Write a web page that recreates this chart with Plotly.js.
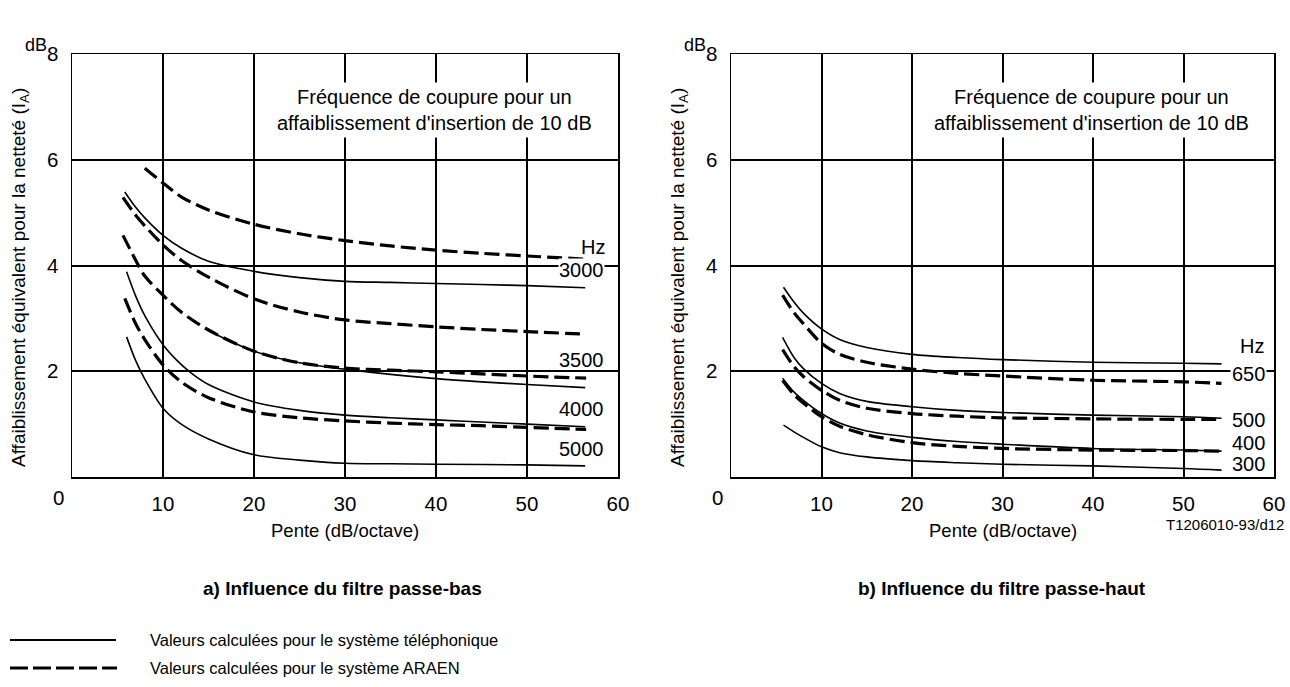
<!DOCTYPE html>
<html>
<head>
<meta charset="utf-8">
<script src="https://cdn.plot.ly/plotly-3.0.1.min.js"></script>
<style>
  html, body { margin: 0; padding: 0; background: #ffffff; }
  #chart { width: 1290px; height: 687px; }
</style>
</head>
<body>
<div id="chart"></div>
<script>
// ---------- Data ----------
// a) Passe-bas : pente (dB/octave) -> affaiblissement (dB)
const basDash1X = [8, 10, 12, 15, 20, 25, 30, 35, 40, 45, 50, 56.5];
const basDash1Y = [5.84, 5.56, 5.30, 5.05, 4.78, 4.60, 4.47, 4.37, 4.29, 4.23, 4.18, 4.12];
const basSolid1X = [5.8, 7, 8, 10, 12, 15, 20, 25, 30, 35, 40, 45, 50, 56.4];
const basSolid1Y = [5.39, 5.10, 4.90, 4.57, 4.33, 4.08, 3.89, 3.77, 3.70, 3.68, 3.66, 3.64, 3.62, 3.58];
const basDash2X = [5.6, 7, 8, 10, 12, 15, 20, 25, 30, 35, 40, 45, 50, 56.5];
const basDash2Y = [5.29, 4.95, 4.75, 4.39, 4.10, 3.78, 3.37, 3.12, 2.97, 2.90, 2.84, 2.79, 2.75, 2.70];
const basDash3X = [5.6, 7, 8, 10, 12, 15, 20, 25, 30, 35, 40, 45, 50, 56.5];
const basDash3Y = [4.57, 4.10, 3.80, 3.44, 3.12, 2.78, 2.38, 2.16, 2.06, 2.02, 1.99, 1.95, 1.91, 1.87];
const basSolid2X = [16, 20, 25, 30, 35, 40, 45, 50, 56.4];
const basSolid2Y = [2.68, 2.38, 2.16, 2.04, 1.94, 1.86, 1.80, 1.75, 1.69];
const basSolid3X = [6.0, 7, 8, 10, 11.5, 13, 15, 20, 25, 30, 35, 40, 45, 50, 56.4];
const basSolid3Y = [3.88, 3.42, 3.05, 2.50, 2.21, 1.98, 1.75, 1.42, 1.26, 1.17, 1.12, 1.08, 1.04, 1.00, 0.95];
const basDash4X = [5.8, 7, 8, 10, 12, 15, 20, 25, 30, 35, 40, 45, 50, 56.5];
const basDash4Y = [3.38, 2.90, 2.60, 2.12, 1.80, 1.50, 1.23, 1.12, 1.06, 1.02, 0.99, 0.97, 0.94, 0.90];
const basSolid4X = [6.0, 7, 8, 10, 12, 15, 20, 25, 30, 35, 40, 50, 56.4];
const basSolid4Y = [2.65, 2.20, 1.85, 1.30, 1.00, 0.72, 0.42, 0.32, 0.26, 0.25, 0.24, 0.23, 0.21];

// b) Passe-haut
const hautSolid650X = [5.8, 7, 8, 10, 12, 15, 20, 25, 30, 40, 50, 54.2];
const hautSolid650Y = [3.59, 3.30, 3.10, 2.80, 2.60, 2.45, 2.32, 2.26, 2.22, 2.17, 2.15, 2.14];
const hautDash650X = [5.7, 7, 8, 10, 12, 15, 20, 25, 30, 40, 50, 54.2];
const hautDash650Y = [3.44, 3.10, 2.90, 2.53, 2.32, 2.17, 2.04, 1.96, 1.91, 1.83, 1.80, 1.77];
const hautSolid500X = [5.7, 7, 8, 10, 12, 15, 20, 25, 30, 40, 50, 54.2];
const hautSolid500Y = [2.64, 2.25, 2.05, 1.77, 1.58, 1.43, 1.33, 1.26, 1.22, 1.17, 1.14, 1.11];
const hautDash500X = [5.7, 7, 8, 10, 12, 15, 20, 25, 30, 40, 50, 54.2];
const hautDash500Y = [2.41, 2.08, 1.90, 1.64, 1.45, 1.30, 1.20, 1.15, 1.12, 1.10, 1.09, 1.09];
const hautSolid400X = [5.7, 7, 8, 10, 12, 15, 20, 25, 30, 40, 50, 54.2];
const hautSolid400Y = [1.87, 1.60, 1.45, 1.20, 1.02, 0.87, 0.75, 0.67, 0.62, 0.54, 0.51, 0.49];
const hautDash400X = [5.7, 7, 8, 10, 12, 15, 20, 25, 30, 40, 50, 54.2];
const hautDash400Y = [1.83, 1.55, 1.40, 1.14, 0.96, 0.80, 0.65, 0.58, 0.54, 0.51, 0.50, 0.49];
const hautSolid300X = [5.8, 7, 8, 10, 12, 15, 20, 25, 30, 40, 50, 54.2];
const hautSolid300Y = [0.98, 0.85, 0.75, 0.57, 0.46, 0.38, 0.31, 0.27, 0.24, 0.21, 0.16, 0.13];

// Tick labels and curve labels
const xTickVals = [10, 20, 30, 40, 50, 60];
const yTickVals = [2, 4, 6, 8];
const basLabels = ['Hz', '3000', '3500', '4000', '5000'];
const hautLabels = ['Hz', '650', '500', '400', '300'];

// ---------- Styling / layout ----------
const FONT = 'Liberation Sans, Arial, Helvetica, sans-serif';
const W = 1290, H = 687;
const px = v => v / W;          // paper x from pixel
const py = v => 1 - v / H;      // paper y from pixel

const solidLine = {color: '#000', width: 1.6, shape: 'spline', smoothing: 0.9};
const dashLine = {color: '#000', width: 3.2, dash: '15px,6px', shape: 'spline', smoothing: 0.9};

function tr(x, y, style, ax) {
  return {x: x, y: y, type: 'scatter', mode: 'lines', line: style,
          xaxis: ax === 2 ? 'x2' : 'x', yaxis: ax === 2 ? 'y2' : 'y',
          hoverinfo: 'skip', showlegend: false};
}

const traces = [
  tr(basDash1X, basDash1Y, dashLine, 1),
  tr(basSolid1X, basSolid1Y, solidLine, 1),
  tr(basDash2X, basDash2Y, dashLine, 1),
  tr(basSolid2X, basSolid2Y, solidLine, 1),
  tr(basDash3X, basDash3Y, dashLine, 1),
  tr(basSolid3X, basSolid3Y, solidLine, 1),
  tr(basDash4X, basDash4Y, dashLine, 1),
  tr(basSolid4X, basSolid4Y, solidLine, 1),
  tr(hautSolid650X, hautSolid650Y, solidLine, 2),
  tr(hautDash650X, hautDash650Y, dashLine, 2),
  tr(hautSolid500X, hautSolid500Y, solidLine, 2),
  tr(hautDash500X, hautDash500Y, dashLine, 2),
  tr(hautSolid400X, hautSolid400Y, solidLine, 2),
  tr(hautDash400X, hautDash400Y, dashLine, 2),
  tr(hautSolid300X, hautSolid300Y, solidLine, 2)
];

function xAxis(domain, anchor) {
  return {domain: domain, anchor: anchor, range: [0, 60], tickvals: xTickVals,
          ticks: '', ticklabelstandoff: 8, showgrid: true, gridcolor: '#000', gridwidth: 2,
          zeroline: false, showline: true, mirror: true, linecolor: '#000', linewidth: 1.5,
          tickfont: {family: FONT, size: 20.5, color: '#000'}, fixedrange: true};
}
function yAxis(domain, anchor) {
  return {domain: domain, anchor: anchor, range: [0, 8], tickvals: yTickVals,
          ticks: '', ticklabelstandoff: 8, showgrid: true, gridcolor: '#000', gridwidth: 2,
          zeroline: false, showline: true, mirror: true, linecolor: '#000', linewidth: 1.5,
          tickfont: {family: FONT, size: 20.5, color: '#000'}, fixedrange: true};
}

const yDom = [1 - 477 / H, 1 - 54 / H];
const annFont = s => ({family: FONT, size: s, color: '#000'});

const annotations = [];
function paperText(text, x, y, size, opts) {
  annotations.push(Object.assign({text: text, xref: 'paper', yref: 'paper', x: px(x), y: py(y),
    showarrow: false, font: annFont(size), xanchor: 'center', yanchor: 'middle'}, opts || {}));
}

// per-panel decorations
[[0, 72, 345], [1, 731, 1002.5]].forEach(([i, x0, xc]) => {
  paperText('dB', x0 - 36, 45, 18);
  paperText('0', x0 - 14, 497, 20.5);
  paperText('Affaiblissement équivalent pour la netteté (I<sub>A</sub>)', x0 - 52, 278, 19, {textangle: -90});
  paperText('Pente (dB/octave)', xc, 530, 18.5);
  paperText('Fréquence de coupure pour un<br>affaiblissement d\'insertion de 10 dB', xc + 89, 110, 20,
            {bgcolor: '#fff', borderpad: 3});
});
paperText('<b>a) Influence du filtre passe-bas</b>', 342, 588, 19);
paperText('<b>b) Influence du filtre passe-haut</b>', 1002, 588, 19);
paperText('T1206010-93/d12', 1286, 524, 15, {xanchor: 'right'});

// curve labels
const basLabelY = [4.35, 3.91, 2.21, 1.29, 0.53];
basLabels.forEach((t, k) => {
  annotations.push({text: t, xref: 'x', yref: 'y', x: k === 0 ? 58.7 : 56.0, y: basLabelY[k],
    xanchor: k === 0 ? 'right' : 'center', yanchor: 'middle', showarrow: false,
    font: annFont(20), bgcolor: k === 1 ? '#fff' : 'rgba(0,0,0,0)', borderpad: 0});
});
const hautLabelY = [2.48, 1.95, 1.08, 0.64, 0.25];
hautLabels.forEach((t, k) => {
  annotations.push({text: t, xref: 'x2', yref: 'y2', x: k === 0 ? 59.1 : 57.2, y: hautLabelY[k],
    xanchor: k === 0 ? 'right' : 'center', yanchor: 'middle', showarrow: false,
    font: annFont(20), bgcolor: k === 1 ? '#fff' : 'rgba(0,0,0,0)', borderpad: 1});
});

// legend (drawn as decoration)
paperText('Valeurs calculées pour le système téléphonique', 148, 640, 16.5, {xanchor: 'left'});
paperText('Valeurs calculées pour le système ARAEN', 148, 668, 16.5, {xanchor: 'left'});
const shapes = [
  {type: 'line', xref: 'paper', yref: 'paper', x0: px(10), x1: px(116), y0: py(640), y1: py(640),
   line: {color: '#000', width: 2}},
  {type: 'line', xref: 'paper', yref: 'paper', x0: px(10), x1: px(117), y0: py(668), y1: py(668),
   line: {color: '#000', width: 3.2, dash: '18px,5px'}}
];

const layout = {
  width: W, height: H,
  margin: {l: 0, r: 0, t: 0, b: 0},
  paper_bgcolor: '#fff', plot_bgcolor: '#fff',
  showlegend: false,
  xaxis: xAxis([72 / W, 618 / W], 'y'),
  yaxis: yAxis(yDom, 'x'),
  xaxis2: xAxis([731 / W, 1274 / W], 'y2'),
  yaxis2: yAxis(yDom, 'x2'),
  annotations: annotations,
  shapes: shapes,
  font: {family: FONT, color: '#000'}
};

Plotly.newPlot('chart', traces, layout, {staticPlot: true, displayModeBar: false});
</script>
</body>
</html>
